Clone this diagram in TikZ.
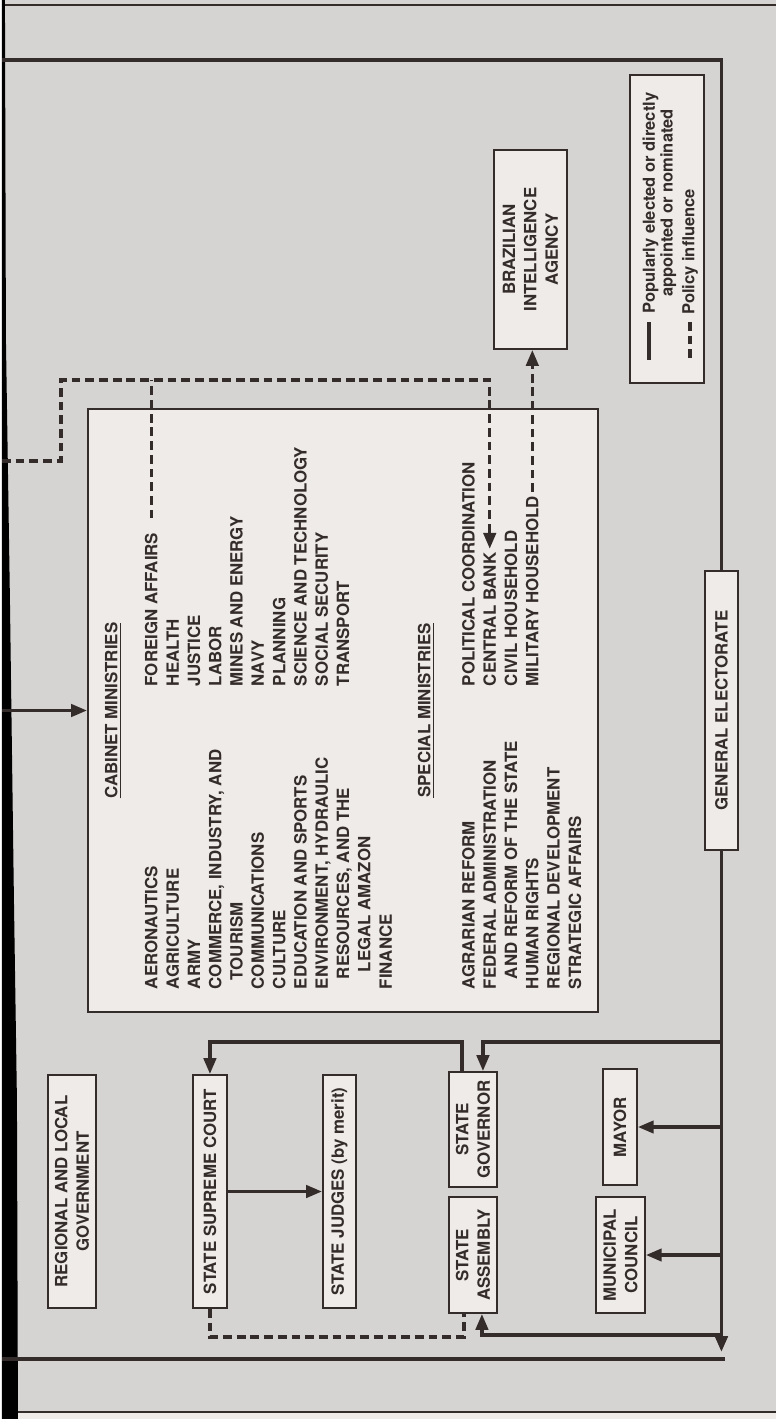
\documentclass[tikz,border=0pt]{standalone}
\usepackage{fontspec}
\setmainfont{TeX Gyre Heros}
\usetikzlibrary{arrows.meta,calc}

\definecolor{paper}{RGB}{214,212,210}
\definecolor{boxfill}{RGB}{238,235,233}
\definecolor{ink}{RGB}{52,44,42}
\newlength{\pxl}\setlength{\pxl}{0.02cm}
\newcommand{\boxfont}{\fontsize{9.6}{12.2}\selectfont\bfseries}
\newcommand{\keyfont}{\fontsize{9.4}{8.6}\selectfont\bfseries}

\begin{document}
\begin{tikzpicture}[x=0.02cm, y=-0.02cm,
    every node/.style={text=ink},
    office/.style={draw=ink, fill=boxfill, line width=1.1pt, rotate=90,
      inner sep=0pt, align=center, font=\boxfont},
    entry/.style={rotate=90, anchor=west, inner sep=2pt, font=\boxfont,
      text height=6.9pt, text depth=0pt},
    link/.style={draw=ink, line width=1.9pt},
    trunk/.style={draw=ink, line width=2.2pt},
    policy/.style={draw=ink, line width=1.9pt, dash pattern=on 5pt off 2.8pt},
    arrowed/.style={-{Triangle[length=9pt,width=7pt]}}]

    % Page
    \fill[paper] (0,0) rectangle (774,1419);
    \fill[boxfill] (0,1412) rectangle (774,1419);
    \draw[ink, line width=0.7pt] (0,5) -- (774,5);
    \draw[ink, line width=0.7pt] (0,1412) -- (774,1412);
    \fill[black] (0,0) -- (3,0) -- (4,340) -- (8,600) -- (12,900) -- (15,1100)
      -- (16,1419) -- (0,1419) -- cycle;

    % Boxes
    \node[office, minimum width=233\pxl, minimum height=48\pxl] (region)
      at (70,1191.5) {REGIONAL AND LOCAL\\GOVERNMENT};
    \node[office, minimum width=233\pxl, minimum height=34\pxl] (supreme)
      at (208,1191.5) {STATE SUPREME COURT};
    \node[office, minimum width=233\pxl, minimum height=33\pxl] (judges)
      at (337.5,1191.5) {STATE JUDGES (by merit)};
    \node[office, minimum width=115\pxl, minimum height=48\pxl] (governor)
      at (471,1129.5) {STATE\\GOVERNOR};
    \node[office, minimum width=116\pxl, minimum height=48\pxl] (assembly)
      at (471,1255) {STATE\\ASSEMBLY};
    \node[office, minimum width=116\pxl, minimum height=34\pxl] (mayor)
      at (618,1127) {MAYOR};
    \node[office, minimum width=116\pxl, minimum height=49\pxl] (council)
      at (618.5,1255) {MUNICIPAL\\COUNCIL};
    \node[office, minimum width=279\pxl, minimum height=33\pxl] (electorate)
      at (719.5,710.5) {GENERAL ELECTORATE};
    \node[office, minimum width=199\pxl, minimum height=73\pxl] (abin)
      at (528.5,249.5) {BRAZILIAN\\INTELLIGENCE\\AGENCY};
    \node[office, minimum width=603\pxl, minimum height=510\pxl] (cabinet)
      at (341,710.5) {};
    \node[office, minimum width=308\pxl, minimum height=74\pxl] (key)
      at (665,229) {};

    % Ministries
    \node[rotate=90, font=\boxfont] (cab-head) at (111,710.5)
      {\underline{CABINET MINISTRIES}};
    \node[rotate=90, font=\boxfont] (spc-head) at (424,710.5)
      {\underline{SPECIAL MINISTRIES}};
    \foreach \t [count=\i] in {AERONAUTICS, AGRICULTURE, ARMY,
        {COMMERCE, INDUSTRY, AND}, \hspace{9\pxl}TOURISM, COMMUNICATIONS,
        CULTURE, EDUCATION AND SPORTS, {ENVIRONMENT, HYDRAULIC},
        {\hspace{10\pxl}RESOURCES, AND THE}, \hspace{17\pxl}LEGAL AMAZON, FINANCE}
      \node[entry] (cab-l-\i) at ({149.5+21.3*(\i-1)},993) {\t};
    \foreach \t [count=\i] in {FOREIGN AFFAIRS, HEALTH, JUSTICE, LABOR,
        MINES AND ENERGY, NAVY, PLANNING, SCIENCE AND TECHNOLOGY,
        SOCIAL SECURITY, TRANSPORT}
      \node[entry] (cab-r-\i) at ({149.5+21.3*(\i-1)},690) {\t};
    \foreach \t [count=\i] in {AGRARIAN REFORM, FEDERAL ADMINISTRATION,
        \hspace{10\pxl}AND REFORM OF THE STATE, HUMAN RIGHTS,
        REGIONAL DEVELOPMENT, STRATEGIC AFFAIRS}
      \node[entry] (spc-l-\i) at ({466.5+21.3*(\i-1)},993) {\t};
    \foreach \t [count=\i] in {POLITICAL COORDINATION, CENTRAL BANK,
        CIVIL HOUSEHOLD, MILITARY HOUSEHOLD}
      \node[entry] (spc-r-\i) at ({466.5+21.3*(\i-1)},690) {\t};

    % Legend
    \node[rotate=90, font=\keyfont, align=center, inner sep=0pt] (key-solid)
      at (657.5,203) {Popularly elected or directly\\appointed or nominated};
    \node[rotate=90, font=\keyfont, anchor=west, inner sep=0pt] (key-dash)
      at (688,315) {Policy influence};
    \draw[link] (647,322) -- (647,360);
    \draw[policy] (688,322) -- (688,360);

    % Arcs
    \coordinate (edge) at (0,0);
    \coordinate (topleft) at (0,60);
    \coordinate (botleft) at (0,1359);
    \coordinate (botright) at (723,1359);
    \coordinate (govbus) at (0,1042);
    \coordinate (asmbus) at (0,1335);
    \draw[trunk] (electorate.east) |- (topleft);
    \draw[trunk] (botleft) -- (botright);
    \draw[trunk, arrowed] (electorate.west)
      -- ($(electorate.west |- botright)+(0,-7)$);
    \draw[link, arrowed] (electorate.west |- govbus)
      -| ($(governor.east)+(10,0)$);
    \draw[link, arrowed] ($(governor.east)+(-11,0)$)
      |- (supreme.east |- govbus) -- (supreme.east);
    \draw[link, arrowed] (electorate.west |- mayor) -- (mayor.south);
    \draw[link, arrowed] (electorate.west |- council) -- (council.south);
    \draw[link, arrowed] (electorate.west |- asmbus)
      -| ($(assembly.west)+(9,0)$);
    \draw[link, arrowed] (supreme.south) -- (judges.north);
    \draw[link, arrowed] (edge |- cabinet) -- (cabinet.north);

    % Policy influence
    \coordinate (pin) at (0,461);
    \coordinate (fold) at (59,380);
    \draw[policy, arrowed] (pin) -| (fold) -| (spc-r-2.east);
    \draw[policy, shorten <=6pt] (cab-r-1.east) -- (cab-r-1.east |- fold);
    \draw[policy, arrowed] (spc-r-4.east) -- (spc-r-4.east |- abin.west);
    \draw[policy] (supreme.west) |- ($(assembly.west)+(-9,23)$)
      -- ($(assembly.west)+(-9,0)$);
  \end{tikzpicture}
\end{document}
